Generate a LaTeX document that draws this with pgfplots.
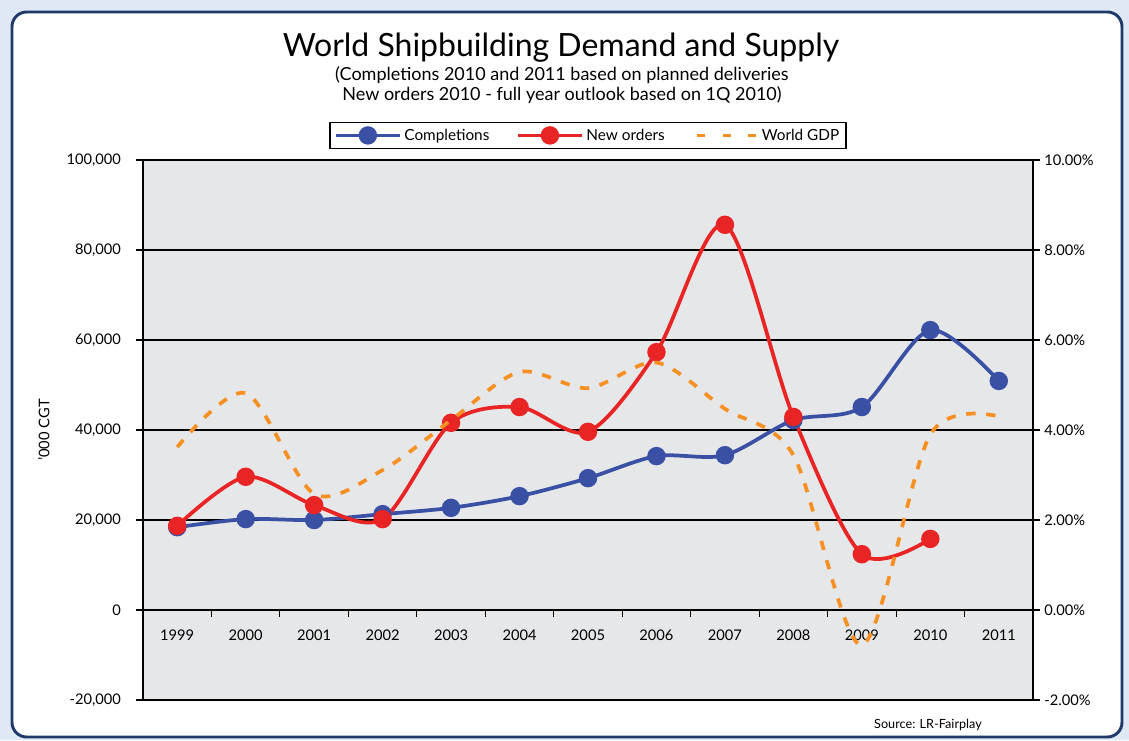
\documentclass[border=0pt]{standalone}
\usepackage{pgfplots}
\pgfplotsset{compat=1.18}
\usepackage{fontspec}
\setmainfont{Lato}

\definecolor{frameblue}{RGB}{31,58,104}
\definecolor{outerbg}{RGB}{222,233,245}
\definecolor{plotbg}{RGB}{230,231,233}
\definecolor{compblue}{RGB}{57,80,165}
\definecolor{ordred}{RGB}{232,36,36}
\definecolor{gdporange}{RGB}{247,144,35}

% completions and new orders, '000 CGT
\pgfplotstableread{
x comp ord
0 18400 18700
1 20200 29600
2 20000 23300
3 21300 20200
4 22700 41600
5 25300 45100
6 29300 39600
7 34200 57300
8 34400 85600
9 42200 42900
10 45100 12400
11 62200 15800
12 50900 nan
}\shipdata

% world GDP growth, %
\pgfplotstableread{
x gdp
0 3.62
1 4.82
2 2.58
3 3.11
4 4.22
5 5.29
6 4.93
7 5.50
8 4.47
9 3.44
10 -0.78
11 3.90
12 4.30
}\gdpdata

\begin{document}
\begin{tikzpicture}[x=0.75pt,y=0.75pt]
\useasboundingbox (0,0) rectangle (1129,740);
\fill[outerbg] (0,0) rectangle (1129,740);
\draw[frameblue, fill=white, line width=2.2pt, rounded corners=11pt] (12,3) rectangle (1122,728);

\node[font=\fontsize{24}{28}\selectfont] at (561,692) {World Shipbuilding Demand and Supply};
\node[font=\fontsize{13.5}{14.5}\selectfont, align=center] at (562,655)
  {(Completions 2010 and 2011 based on planned deliveries\\New orders 2010 - full year outlook based on 1Q 2010)};
\node[font=\fontsize{9.5}{11}\selectfont] at (928,15) {Source: LR-Fairplay};

\begin{axis}[
  at={(107.25pt,30pt)}, anchor=south west,
  scale only axis, width=667.5pt, height=405pt,
  xmin=-0.5, xmax=12.5, ymin=-20000, ymax=100000,
  axis background/.style={fill=plotbg},
  axis y line*=left, axis x line*=middle,
  axis line style={black, line width=1pt},
  ytick={-20000,0,...,100000},
  ytick align=outside, major y tick style={black, line width=0.8pt},
  major tick length=5pt,
  scaled y ticks=false,
  yticklabel style={/pgf/number format/fixed, /pgf/number format/1000 sep={,}, font=\fontsize{11}{13}\selectfont, xshift=-8pt},
  ymajorgrids, grid style={black, line width=0.8pt},
  xtick={0,...,12},
  xticklabels={1999,2000,2001,2002,2003,2004,2005,2006,2007,2008,2009,2010,2011},
  major x tick style={draw=none},
  minor xtick={-0.5,0.5,...,11.5},
  minor x tick style={black, line width=0.8pt},
  minor tick length=5pt,
  xtick align=outside,
  xticklabel style={font=\fontsize{11}{13}\selectfont, yshift=-6pt},
  ylabel={'000 CGT}, ylabel style={font=\fontsize{11}{13}\selectfont, yshift=6pt},
  /pgf/number format/assume math mode=true,
  legend columns=3,
  legend style={at={(0.5,1)}, anchor=south, yshift=8pt, draw=black, line width=0.9pt,
    font=\fontsize{11.5}{13}\selectfont, inner sep=3pt,
    /tikz/every even column/.append style={column sep=18pt}},
  legend image code/.code={\draw[mark repeat=2, mark phase=2] plot coordinates {(0pt,0pt) (24pt,0pt) (48pt,0pt)};},
  clip=false,
]
\addplot[compblue, line width=2.8pt, smooth, mark=*, mark size=5.5pt, mark options={solid}]
  table[x=x, y=comp] {\shipdata};
\addlegendentry{Completions}
\addplot[ordred, line width=2.8pt, smooth, mark=*, mark size=5.5pt, mark options={solid}, unbounded coords=discard]
  table[x=x, y=ord] {\shipdata};
\addlegendentry{New orders}
\addlegendimage{gdporange, line width=2.8pt, dash pattern=on 6pt off 13pt, dash phase=-3pt}
\addlegendentry{World GDP}
\end{axis}

\begin{axis}[
  at={(107.25pt,30pt)}, anchor=south west,
  scale only axis, width=667.5pt, height=405pt,
  xmin=-0.5, xmax=12.5, ymin=-2, ymax=10,
  axis y line*=right, axis x line=none,
  axis line style={black, line width=1pt},
  ytick={-2,0,...,10},
  ytick align=outside, major tick length=5pt,
  major y tick style={black, line width=0.8pt},
  yticklabel={\pgfmathprintnumber[fixed,fixed zerofill,precision=2]{\tick}\%},
  yticklabel style={font=\fontsize{11}{13}\selectfont},
  /pgf/number format/assume math mode=true,
  clip=false,
]
\addplot[gdporange, line width=2.8pt, smooth, dash pattern=on 7pt off 8pt]
  table[x=x, y=gdp] {\gdpdata};
\end{axis}
\end{tikzpicture}
\end{document}
